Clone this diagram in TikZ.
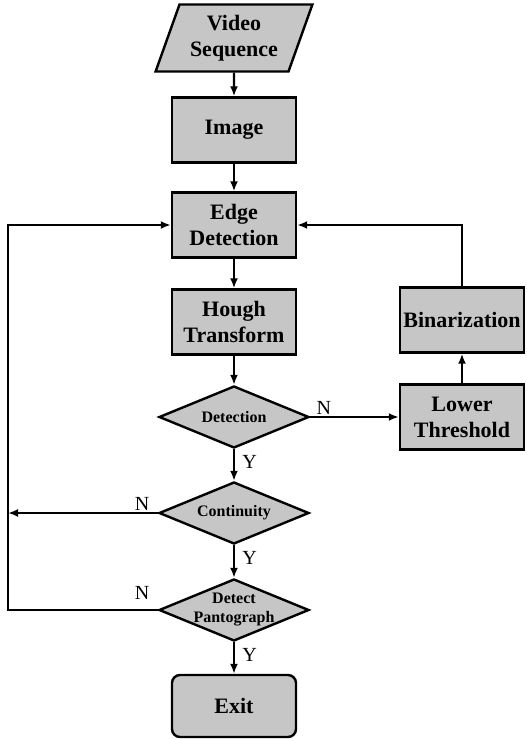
\documentclass[tikz,border=0pt]{standalone}
\usepackage{fontspec}
\setmainfont{Liberation Serif}
\usetikzlibrary{arrows.meta,positioning,shapes.geometric}
\definecolor{flowgray}{RGB}{198,198,198}

\begin{document}
\begin{tikzpicture}[x=0.5pt,y=-0.5pt,
    procbox/.style={draw, line width=1.2pt, fill=flowgray, minimum width=62pt,
      minimum height=32.5pt, align=center, font=\fontsize{11}{13}\selectfont\bfseries, inner sep=1pt},
    decbox/.style={draw, line width=1.2pt, fill=flowgray, diamond,
      minimum width=75pt, minimum height=31pt, inner sep=0pt},
    flow/.style={line width=1.2pt, -{Latex[length=5pt,width=4pt]}},
    yn/.style={inner sep=0pt, font=\normalsize}]
        \useasboundingbox (0,0) rectangle (526,739);
        % main column
        \node[procbox, trapezium, trapezium left angle=68, trapezium right angle=112,
          trapezium stretches=true, minimum width=78.5pt, minimum height=33.5pt] (video) at (234,38) {Video\\Sequence};
        \node[procbox] (image) at (234,130) {Image};
        \node[procbox] (edge) at (234,225) {Edge\\Detection};
        \node[procbox] (hough) at (234,322) {Hough\\Transform};
        \node[decbox, label={[font=\footnotesize\bfseries]center:Detection}] (detect) at (234,417) {};
        \node[decbox, label={[font=\footnotesize\bfseries]center:Continuity}] (cont) at (234,513) {};
        \node[decbox, label={[font=\footnotesize\bfseries, align=center]center:Detect\\Pantograph}] (panto) at (234,610) {};
        \node[procbox, rounded corners=4pt, minimum height=31pt] (exit) at (234,706) {Exit};
        % right branch
        \node[procbox] (lower) at (462,417) {Lower\\Threshold};
        \node[procbox] (binar) at (462,320) {Binarization};
        \coordinate (rail) at (8,0);

        \draw[flow] (video) -- (image);
        \draw[flow] (image) -- (edge);
        \draw[flow] (edge) -- (hough);
        \draw[flow] (hough) -- (detect);
        \draw[flow] (detect) -- (cont);
        \draw[flow] (cont) -- (panto);
        \draw[flow] (panto) -- (exit);
        \draw[flow] (detect) -- (lower);
        \draw[flow] (lower) -- (binar);
        \draw[flow] (binar.north) |- (edge.east);
        \draw[flow] (cont.west) -- (cont.west -| rail);
        \draw[flow] (panto.west) -- (panto.west -| rail) |- (edge.west);

        % branch labels
        \node[yn, above right=1pt and 3pt of detect.east] (dn) {N};
        \node[yn, below right=3pt and 4pt of detect.south] (dy) {Y};
        \node[yn, above left=1pt and 4pt of cont.west] (cn) {N};
        \node[yn, below right=3pt and 4pt of cont.south] (cy) {Y};
        \node[yn, above left=5pt and 4pt of panto.west] (pn) {N};
        \node[yn, below right=3pt and 4pt of panto.south] (py) {Y};
      \end{tikzpicture}
\end{document}
